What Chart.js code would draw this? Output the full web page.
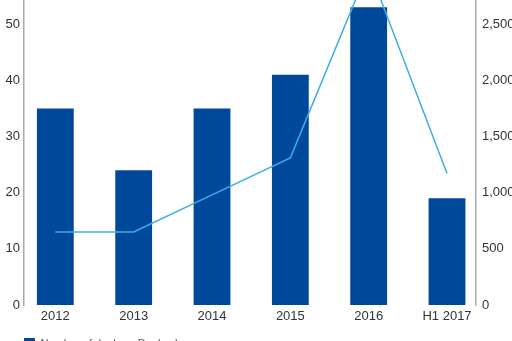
<!DOCTYPE html>
<html>
<head>
<meta charset="utf-8">
<script src="https://cdn.jsdelivr.net/npm/chart.js@4"></script>
<style>
    html, body { margin: 0; padding: 0; background: #fff; overflow: hidden; }
    body { width: 512px; height: 341px; position: relative; }
    #chart { position: absolute; left: 0; top: -40px; }
</style>
</head>
<body>
<canvas id="chart" width="540" height="399"></canvas>
<script>
const years = ['2012', '2013', '2014', '2015', '2016', 'H1 2017'];
const dealCounts = [35, 24, 35, 41, 53, 19];
const dealValues = [650, 650, 980, 1310, 3000, 1170];

const tickFont = { family: 'Arial, "Liberation Sans", sans-serif', size: 13 };

new Chart(document.getElementById('chart'), {
    type: 'bar',
    data: {
        datasets: [{
            label: 'Number of deals',
            data: dealCounts.map((v, i) => ({ x: i, y: v })),
            backgroundColor: '#00489a',
            categoryPercentage: 1,
            barPercentage: 0.47,
            pointStyle: 'rect',
            yAxisID: 'y',
            order: 1,
        }, {
            type: 'line',
            label: 'Deal value',
            data: dealValues.map((v, i) => ({ x: i, y: v })),
            borderColor: '#3eaee3',
            backgroundColor: '#3eaee3',
            borderWidth: 1.5,
            pointRadius: 0,
            pointStyle: 'line',
            tension: 0,
            yAxisID: 'y1',
            order: 0,
        }],
    },
    options: {
        responsive: false,
        animation: false,
        layout: { padding: { top: 8, left: 0, right: 0, bottom: 0 } },
        plugins: {
            legend: {
                position: 'bottom',
                align: 'start',
                fullSize: false,
                reverse: true,
                labels: {
                    usePointStyle: true,
                    boxWidth: 13,
                    boxHeight: 13,
                    padding: 0,
                    color: '#555',
                    font: { family: tickFont.family, size: 11 },
                },
            },
            tooltip: { enabled: false },
        },
        scales: {
            x: {
                type: 'linear',
                offset: false,
                min: -0.4,
                max: 5.37,
                grid: { display: false, drawTicks: false },
                border: { display: false },
                afterBuildTicks: s => { s.ticks = years.map((_, i) => ({ value: i })); },
                afterFit: s => { s.height = 33; },
                ticks: {
                    callback: v => years[v],
                    color: '#333',
                    font: tickFont,
                    padding: 4,
                    maxRotation: 0,
                },
            },
            y: {
                position: 'left',
                min: 0,
                max: 60,
                grid: { display: false, drawTicks: false },
                border: { display: true, color: '#aaa', width: 1.5 },
                afterFit: s => { s.width = 24; s.paddingTop = 0; s.paddingBottom = 0; },
                ticks: { stepSize: 10, color: '#333', font: tickFont, padding: 4 },
            },
            y1: {
                position: 'right',
                min: 0,
                max: 3000,
                grid: { display: false, drawTicks: false },
                border: { display: true, color: '#aaa', width: 1.5 },
                afterFit: s => { s.width = 64; s.paddingTop = 0; s.paddingBottom = 0; },
                ticks: {
                    stepSize: 500,
                    color: '#333',
                    font: tickFont,
                    padding: 6,
                    callback: v => v.toLocaleString('en-US'),
                },
            },
        },
    },
});
</script>
</body>
</html>
